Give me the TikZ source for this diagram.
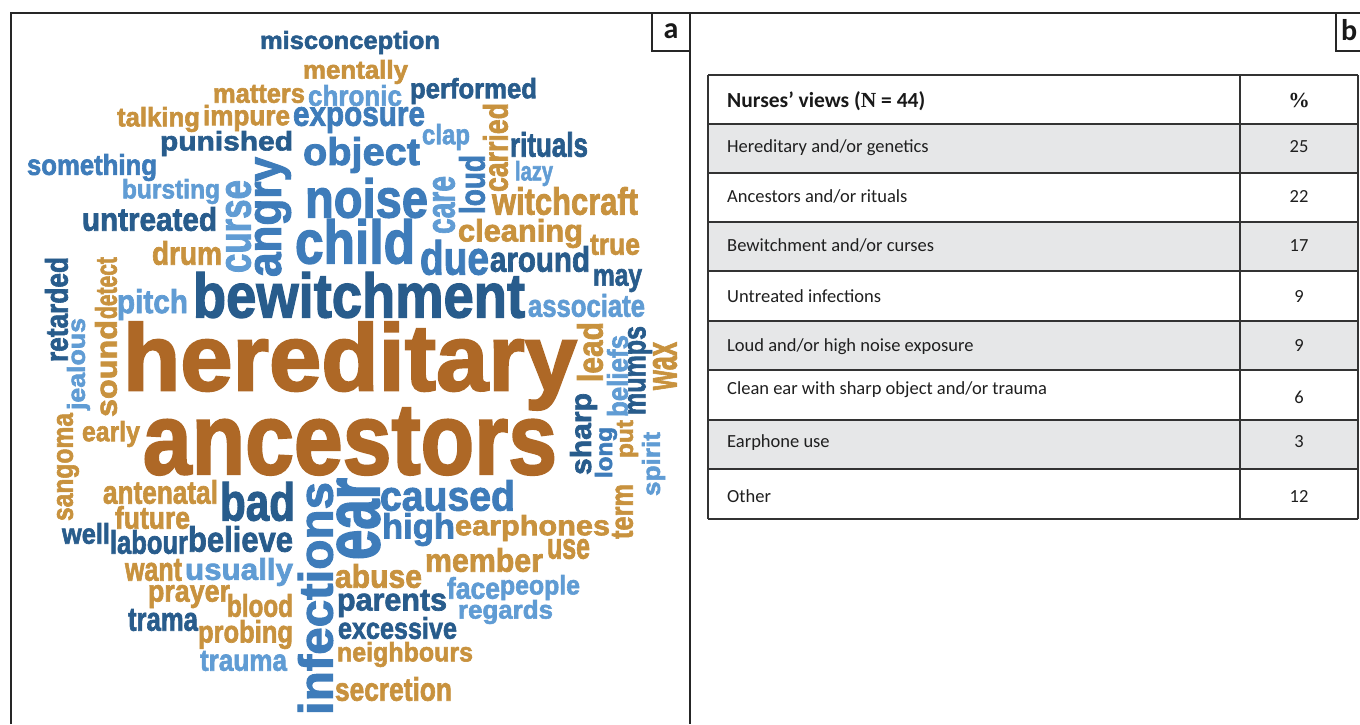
\documentclass[tikz,border=0pt]{standalone}
\usepackage{fontspec}
\usepackage{graphicx}
\setmainfont{Carlito}
\newfontfamily\serf{Liberation Serif}
\newfontfamily\wcf{Liberation Sans}[FakeBold=2.2]
\definecolor{DB}{RGB}{40,92,140}
\definecolor{MB}{RGB}{62,124,186}
\definecolor{LB}{RGB}{96,156,212}
\definecolor{DO}{RGB}{174,104,38}
\definecolor{GO}{RGB}{200,146,62}
\definecolor{rowgrey}{RGB}{230,231,232}
\tikzset{
  wc/.style={inner sep=0pt, outer sep=0pt},
  rowtxt/.style={anchor=base west, inner sep=0pt, text=black!88, font=\fontsize{18.5}{20}\selectfont},
  rownum/.style={anchor=base, inner sep=0pt, text=black!88, font=\fontsize{18.5}{20}\selectfont},
  headtxt/.style={anchor=base west, inner sep=0pt, text=black!90, font=\fontsize{21.5}{23}\selectfont\bfseries},
  panelline/.style={draw=black!85, line width=1.3pt},
  gridline/.style={draw=black!80, line width=1.2pt},
  shaded/.style={fill=rowgrey},
  panellabel/.style={inner sep=0pt, text=black!90, font=\fontsize{30}{32}\selectfont\bfseries}
}
\newcommand\wch[7]{%
  \node[wc,text=#2] (w-#1) at ({(#3+#5)/2},{(#4+#6)/2})
   {\resizebox*{\dimexpr#5pt-#3pt\relax}{\dimexpr#6pt-#4pt\relax}{\wcf\bfseries #1}};}
\newcommand\wcv[7]{%
  \node[wc,text=#2,rotate=90] (w-#1) at ({(#3+#5)/2},{(#4+#6)/2})
   {\resizebox*{\dimexpr#6pt-#4pt\relax}{\dimexpr#5pt-#3pt\relax}{\wcf\bfseries #1}};}
\begin{document}
\begin{tikzpicture}[x=1pt,y=-1pt]
\clip (0,0) rectangle (1360,724);
\fill[white] (0,0) rectangle (1360,724);
% panel frames
\draw[panelline] (11,724) -- (11,13) -- (1365,13);
\draw[panelline] (690,13) -- (690,724);
\draw[panelline] (652,13) -- (652,51) -- (690,51);
\draw[panelline] (1336,13) -- (1336,51) -- (1365,51);
\node[panellabel] (la) at (671,31) {a};
\node[panellabel,anchor=west] (lb) at (1341,30) {b};
% word cloud
\wch{misconception}{DB}{260}{31}{440}{54}{}
\wch{mentally}{GO}{303}{60}{408}{84}{}
\wch{matters}{GO}{213}{85}{305}{103}{}
\wch{chronic}{LB}{308}{85}{402}{106}{}
\wch{performed}{DB}{410}{78}{537}{104}{}
\wch{talking}{GO}{117}{107}{200}{132}{}
\wch{impure}{GO}{203}{105}{290}{131}{}
\wch{exposure}{MB}{293}{107}{425}{133}{}
\wch{punished}{DB}{160}{131}{293}{156}{}
\wch{something}{MB}{27}{154}{157}{181}{}
\wch{object}{MB}{303}{137}{420}{173}{}
\wch{clap}{LB}{422}{124}{470}{150}{}
\wcv{carried}{GO}{483}{103}{508}{192}{}
\wch{rituals}{DB}{510}{132}{588}{157}{}
\wch{lazy}{LB}{515}{161}{553}{186}{}
\wch{witchcraft}{GO}{492}{187}{638}{215}{}
\wcv{loud}{MB}{459}{155}{485}{214}{}
\wcv{care}{LB}{433}{176}{455}{234}{}
\wch{cleaning}{GO}{458}{219}{583}{248}{}
\wch{true}{GO}{590}{235}{640}{255}{}
\wch{noise}{MB}{305}{178}{428}{218}{}
\wcv{angry}{MB}{255}{157}{291}{277}{}
\wcv{curse}{LB}{226}{180}{251}{273}{}
\wch{bursting}{LB}{122}{179}{220}{204}{}
\wch{untreated}{DB}{82}{207}{217}{231}{}
\wch{child}{MB}{295}{219}{415}{264}{}
\wch{drum}{GO}{152}{241}{222}{265}{}
\wch{due}{MB}{420}{240}{489}{275}{}
\wch{around}{DB}{490}{246}{590}{272}{}
\wch{bewitchment}{DB}{193}{272}{525}{318}{}
\wcv{retarded}{DB}{45}{257}{68}{362}{}
\wcv{detect}{GO}{95}{257}{117}{319}{}
\wcv{sound}{GO}{95}{320}{117}{417}{}
\wcv{jealous}{LB}{67}{318}{90}{410}{}
\wch{pitch}{LB}{117}{289}{188}{320}{}
\wch{hereditary}{DO}{123}{322}{577}{410}{}
\wch{ancestors}{DO}{143}{408}{557}{475}{}
\wch{early}{GO}{82}{421}{140}{447}{}
\wcv{sangoma}{GO}{57}{413}{79}{521}{}
\wch{associate}{LB}{528}{294}{645}{317}{}
\wch{may}{DB}{593}{269}{642}{292}{}
\wcv{lead}{GO}{577}{322}{603}{382}{}
\wcv{beliefs}{LB}{607}{335}{628}{417}{}
\wcv{mumps}{DB}{628}{326}{652}{415}{}
\wcv{wax}{GO}{653}{342}{677}{390}{}
\wcv{sharp}{DB}{570}{393}{597}{475}{}
\wcv{long}{MB}{595}{427}{617}{478}{}
\wcv{put}{GO}{617}{420}{638}{458}{}
\wcv{spirit}{LB}{642}{432}{665}{496}{}
\wcv{term}{GO}{612}{484}{633}{539}{}
\wch{antenatal}{GO}{103}{480}{218}{504}{}
\wch{bad}{DB}{220}{482}{295}{521}{}
\wcv{infections}{MB}{298}{482}{333}{715}{}
\wcv{ear}{MB}{337}{478}{380}{560}{}
\wch{caused}{MB}{380}{480}{515}{511}{}
\wch{high}{MB}{382}{513}{455}{546}{}
\wch{earphones}{GO}{455}{515}{610}{541}{}
\wch{member}{GO}{425}{548}{543}{572}{}
\wch{use}{GO}{547}{539}{590}{559}{}
\wch{abuse}{GO}{335}{564}{422}{588}{}
\wch{face}{LB}{447}{577}{500}{599}{}
\wch{people}{LB}{500}{575}{580}{600}{}
\wch{regards}{LB}{458}{600}{553}{624}{}
\wch{parents}{DB}{337}{590}{447}{617}{}
\wch{excessive}{DB}{338}{617}{457}{639}{}
\wch{neighbours}{GO}{337}{642}{473}{667}{}
\wch{secretion}{GO}{335}{677}{452}{701}{}
\wch{future}{GO}{115}{506}{190}{529}{}
\wch{well}{DB}{62}{523}{110}{544}{}
\wch{labour}{DB}{110}{530}{188}{554}{}
\wch{believe}{DB}{188}{526}{293}{552}{}
\wch{want}{GO}{125}{559}{182}{581}{}
\wch{usually}{LB}{185}{558}{293}{586}{}
\wch{prayer}{GO}{148}{585}{230}{608}{}
\wch{blood}{GO}{227}{594}{293}{617}{}
\wch{trama}{DB}{128}{609}{198}{631}{}
\wch{probing}{GO}{198}{620}{293}{649}{}
\wch{trauma}{LB}{200}{651}{287}{671}{}
% table
\fill[shaded] (708,124) rectangle (1358,173);
\fill[shaded] (708,222) rectangle (1358,271);
\fill[shaded] (708,321) rectangle (1358,370);
\fill[shaded] (708,420) rectangle (1358,469);
\foreach \yy in {75,124,173,222,271,321,370,420,469,519}
  \draw[gridline] (708,\yy) -- (1358,\yy);
\foreach \xx in {708,1240,1358}
  \draw[gridline] (\xx,75) -- (\xx,519);
\node[headtxt] (t0) at (727,107) {Nurses’ views ({\serf N} = 44)};
\node[headtxt,anchor=base] (n0) at (1299,107) {{\serf\%}};
\node[rowtxt] (t1) at (727,152) {Hereditary and/or genetics};
\node[rownum] (n1) at (1299,152) {25};
\node[rowtxt] (t2) at (727,202) {Ancestors and/or rituals};
\node[rownum] (n2) at (1299,202) {22};
\node[rowtxt] (t3) at (727,251) {Bewitchment and/or curses};
\node[rownum] (n3) at (1299,251) {17};
\node[rowtxt] (t4) at (727,302.5) {Untreated infections};
\node[rownum] (n4) at (1299,302.5) {9};
\node[rowtxt] (t5) at (727,351) {Loud and/or high noise exposure};
\node[rownum] (n5) at (1299,351) {9};
\node[rowtxt] (t6) at (727,394.5) {Clean ear with sharp object and/or trauma};
\node[rownum] (n6) at (1299,403) {6};
\node[rowtxt] (t7) at (727,447.5) {Earphone use};
\node[rownum] (n7) at (1299,447.5) {3};
\node[rowtxt] (t8) at (727,502.5) {Other};
\node[rownum] (n8) at (1299,502.5) {12};
\end{tikzpicture}
\end{document}
